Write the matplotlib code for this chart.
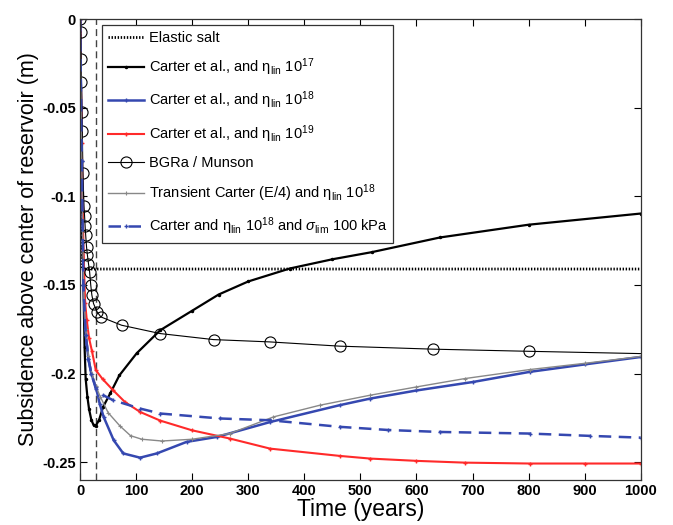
import matplotlib
matplotlib.use("Agg")
import matplotlib.pyplot as plt
import numpy as np

plt.rcParams['font.family'] = ['Liberation Sans', 'DejaVu Sans']
plt.rcParams['mathtext.fontset'] = 'custom'
plt.rcParams['mathtext.rm'] = 'Liberation Sans'
plt.rcParams['mathtext.it'] = 'Liberation Sans:italic'

# ---- data (time in years, subsidence in m) ----
elastic_t = [0, 2, 1000]
elastic_y = [0, -0.141, -0.141]

c17_t = [0, 2, 4, 6, 8, 10, 13, 16, 20, 24, 28, 34, 41, 54, 70, 101, 143, 200, 247, 300, 374, 450, 520, 642, 800, 1000]
c17_y = [0, -0.05, -0.10, -0.15, -0.185, -0.203, -0.213, -0.220, -0.226, -0.229, -0.2295, -0.226, -0.2188, -0.211, -0.201,
         -0.1885, -0.1755, -0.1645, -0.1554, -0.148, -0.1407, -0.1355, -0.1315, -0.1232, -0.116, -0.1097]

c18_t = [0, 3, 6, 10, 15, 20, 28, 35, 42, 60, 77, 107, 137, 190, 244, 339, 463, 517, 600, 701, 802, 900, 1000]
c18_y = [0, -0.08, -0.15, -0.178, -0.192, -0.200, -0.2075, -0.217, -0.2244, -0.2376, -0.245, -0.2474, -0.245, -0.2385,
         -0.2357, -0.2273, -0.2178, -0.2141, -0.2095, -0.2047, -0.199, -0.1948, -0.1906]

c19_t = [0, 3, 6, 9, 12, 16, 21, 28, 40, 59, 80, 107, 143, 200, 267, 339, 463, 517, 600, 686, 802, 900, 1000]
c19_y = [0, -0.07, -0.13, -0.16, -0.170, -0.180, -0.187, -0.198, -0.203, -0.2094, -0.216, -0.2216, -0.2265, -0.232,
         -0.2366, -0.2423, -0.2464, -0.2479, -0.2492, -0.2502, -0.2507, -0.2507, -0.2507]

bgra_t = [0, 1, 2, 2.5, 3, 4, 5, 7, 8, 9, 10, 11.5, 13, 15, 17, 19, 21, 24, 30, 37, 74, 143, 238, 338, 463, 630, 800, 1000]
bgra_y = [0, -0.0073, -0.0226, -0.0355, -0.0524, -0.063, -0.087, -0.1055, -0.111, -0.117, -0.122, -0.1285, -0.133,
          -0.138, -0.1426, -0.150, -0.1557, -0.1605, -0.165, -0.168, -0.1727, -0.1774, -0.1808, -0.1821, -0.1845,
          -0.1862, -0.1874, -0.1887]

tr_t = [0, 3, 6, 10, 15, 21, 28, 36, 50, 71, 90, 110, 146, 200, 267, 345, 428, 517, 600, 686, 802, 900, 1000]
tr_y = [0, -0.08, -0.15, -0.175, -0.19, -0.200, -0.207, -0.213, -0.222, -0.2295, -0.235, -0.237, -0.238, -0.237,
        -0.2338, -0.2244, -0.2178, -0.2122, -0.2075, -0.2028, -0.1977, -0.1942, -0.1903]

sl_t = [0, 3, 6, 10, 15, 20, 28, 40, 59, 107, 143, 250, 339, 463, 550, 642, 802, 909, 1000]
sl_y = [0, -0.08, -0.15, -0.178, -0.192, -0.200, -0.2084, -0.212, -0.215, -0.2197, -0.2225, -0.2253, -0.2263,
        -0.230, -0.2318, -0.2329, -0.2338, -0.2351, -0.2361]

production_end = 28

xticks = [0, 100, 200, 300, 400, 500, 600, 700, 800, 900, 1000]
yticks = [0, -0.05, -0.1, -0.15, -0.2, -0.25]
ytick_labels = ['0', '-0.05', '-0.1', '-0.15', '-0.2', '-0.25']

labels = [
    'Elastic salt',
    r'Carter et al., and $\mathrm{\eta}_{\rm lin}$ $10^{17}$',
    r'Carter et al., and $\mathrm{\eta}_{\rm lin}$ $10^{18}$',
    r'Carter et al., and $\mathrm{\eta}_{\rm lin}$ $10^{19}$',
    'BGRa / Munson',
    r'Transient Carter (E/4) and $\mathrm{\eta}_{\rm lin}$ $10^{18}$',
    r'Carter and $\mathrm{\eta}_{\rm lin}$ $10^{18}$ and $\sigma_{\rm lim}$ 100 kPa',
]

blue = '#3548b0'
red = '#ff2a2a'

fig = plt.figure(figsize=(6.73, 5.25), dpi=100)
ax = fig.add_axes([0.119, 0.0857, 0.833, 0.878])

ax.axvline(production_end, color='#444444', ls=(0, (5, 3)), lw=1.0, zorder=1)

h0, = ax.plot(elastic_t, elastic_y, color='black', ls=(0, (0.5, 0.6)), lw=2.0, label=labels[0])
h1, = ax.plot(c17_t, c17_y, color='black', lw=1.6, marker='.', ms=3, label=labels[1])
h2, = ax.plot(c18_t, c18_y, color=blue, lw=1.8, marker='+', ms=3, mew=1, label=labels[2])
h3, = ax.plot(c19_t, c19_y, color=red, lw=1.5, marker='+', ms=3, mew=1, label=labels[3])
h4, = ax.plot(bgra_t, bgra_y, color='black', lw=0.8, marker='o', ms=8, mfc='none', mew=0.8,
              markevery=list(range(len(bgra_t) - 1)), label=labels[4])
h5, = ax.plot(tr_t, tr_y, color='#888888', lw=1.0, marker='+', ms=3, mew=0.8, label=labels[5])
h6, = ax.plot(sl_t, sl_y, color=blue, lw=1.8, ls=(0, (5, 3)), marker='+', ms=3, mew=1, label=labels[6])

ax.set_xlim(0, 1000)
ax.set_ylim(-0.26, 0)
ax.set_xticks(xticks)
ax.set_xticklabels([str(v) for v in xticks])
ax.set_yticks(yticks)
ax.set_yticklabels(ytick_labels)
ax.tick_params(direction='in', top=True, right=True, length=5, width=0.8, labelsize=10.5, pad=3)
for lab in ax.get_xticklabels() + ax.get_yticklabels():
    lab.set_fontweight('bold')
for sp in ax.spines.values():
    sp.set_linewidth(0.9)
    sp.set_color('#333333')

ax.set_xlabel('Time (years)', fontsize=16.5, labelpad=0)
ax.set_ylabel('Subsidence above center of reservoir (m)', fontsize=15.5, labelpad=2)

leg = ax.legend(handles=[h0, h1, h2, h3, h4, h5, h6], loc='upper left', bbox_to_anchor=(0.039, 0.987),
                borderaxespad=0, fancybox=False, edgecolor='#333333', fontsize=10.5, labelspacing=0.8,
                handlelength=2.5, handletextpad=0.3, borderpad=0.4, framealpha=1)
leg.get_frame().set_linewidth(0.9)

fig.savefig('out.png', dpi=100)
